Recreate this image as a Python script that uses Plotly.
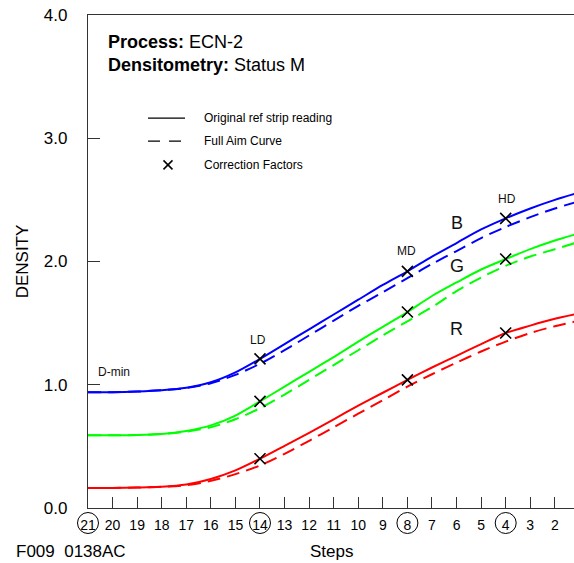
import plotly.graph_objects as go

# ---------------- data ----------------
steps = [21, 20, 19, 18, 17, 16, 15, 14, 13, 12, 11, 10, 9, 8, 7, 6, 5, 4, 3, 2, 1]

blue_ref = [0.94, 0.94, 0.945, 0.955, 0.975, 1.02, 1.10, 1.21, 1.33, 1.45, 1.57,
            1.69, 1.81, 1.92, 2.04, 2.15, 2.26, 2.35, 2.43, 2.50, 2.56]
blue_aim = [0.94, 0.94, 0.945, 0.955, 0.973, 1.012, 1.08, 1.17, 1.28, 1.40, 1.52,
            1.64, 1.75, 1.865, 1.98, 2.085, 2.19, 2.28, 2.36, 2.43, 2.49]

green_ref = [0.59, 0.59, 0.592, 0.60, 0.625, 0.67, 0.75, 0.865, 0.985, 1.105, 1.225,
             1.35, 1.47, 1.59, 1.72, 1.83, 1.935, 2.02, 2.10, 2.17, 2.23]
green_aim = [0.59, 0.59, 0.592, 0.60, 0.62, 0.655, 0.72, 0.81, 0.92, 1.04, 1.16,
             1.28, 1.40, 1.515, 1.63, 1.76, 1.87, 1.965, 2.04, 2.10, 2.16]

red_ref = [0.162, 0.163, 0.166, 0.172, 0.19, 0.235, 0.305, 0.40, 0.505, 0.61, 0.72,
           0.83, 0.935, 1.04, 1.14, 1.235, 1.33, 1.42, 1.48, 1.535, 1.58]
red_aim = [0.162, 0.163, 0.166, 0.172, 0.185, 0.22, 0.275, 0.345, 0.44, 0.545, 0.655,
           0.765, 0.875, 0.985, 1.085, 1.18, 1.27, 1.35, 1.42, 1.475, 1.52]

cf_steps = [14, 8, 4]
cf_blue = [1.21, 1.92, 2.35]
cf_green = [0.865, 1.59, 2.02]
cf_red = [0.40, 1.04, 1.42]

circled_steps = [21, 14, 8, 4]
tick_steps = list(range(21, 1, -1))
y_ticks = [0, 1, 2, 3, 4]

point_labels = ["D-min", "LD", "MD", "HD"]
point_label_x = [20.67, 14.08, 8.04, 3.96]
point_label_y = [1.10, 1.366, 2.086, 2.505]

channel_labels = ["B", "G", "R"]
channel_label_x = [6.0, 6.0, 6.0]
channel_label_y = [2.315, 1.96, 1.455]

X_RANGE = [21, 1.22]
FONT = "Arial, Liberation Sans, sans-serif"
DASH = "13px,7px"

fig = go.Figure()

series = [
    (blue_ref, blue_aim, "#0000ff"),
    (green_ref, green_aim, "#00ff00"),
    (red_ref, red_aim, "#ff0000"),
]
for ref, aim, col in series:
    fig.add_trace(go.Scatter(x=steps, y=aim, mode="lines",
                             line=dict(color=col, width=2, dash=DASH, shape="spline", smoothing=0.8),
                             showlegend=False, hoverinfo="skip"))
    fig.add_trace(go.Scatter(x=steps, y=ref, mode="lines",
                             line=dict(color=col, width=2, shape="spline", smoothing=0.8),
                             showlegend=False, hoverinfo="skip"))
for cf in [cf_blue, cf_green, cf_red]:
    fig.add_trace(go.Scatter(x=cf_steps, y=cf, mode="markers",
                             marker=dict(symbol="x-thin", size=11, color="black",
                                         line=dict(color="black", width=1.6)),
                             showlegend=False, hoverinfo="skip"))

annotations = []
# title block
annotations.append(dict(xref="paper", yref="paper", x=0.037, y=0.945, xanchor="left", yanchor="middle",
                        text="<b>Process:</b> ECN-2", showarrow=False, font=dict(size=18, color="black", family=FONT)))
annotations.append(dict(xref="paper", yref="paper", x=0.037, y=0.899, xanchor="left", yanchor="middle",
                        text="<b>Densitometry:</b> Status M", showarrow=False, font=dict(size=18, color="black", family=FONT)))
# legend text
leg_text = ["Original ref strip reading", "Full Aim Curve", "Correction Factors"]
leg_y = [0.791, 0.744, 0.696]
for t, yy in zip(leg_text, leg_y):
    annotations.append(dict(xref="paper", yref="paper", x=0.2346, y=yy, xanchor="left", yanchor="middle",
                            text=t, showarrow=False, font=dict(size=12, color="black", family=FONT)))
# point labels
for t, xx, yy in zip(point_labels, point_label_x, point_label_y):
    annotations.append(dict(x=xx, y=yy, xanchor="left" if t == "D-min" else "center", yanchor="middle",
                            text=t, showarrow=False, font=dict(size=12, color="#111", family=FONT)))
for t, xx, yy in zip(channel_labels, channel_label_x, channel_label_y):
    annotations.append(dict(x=xx, y=yy, xanchor="center", yanchor="middle",
                            text=t, showarrow=False, font=dict(size=18, color="#111", family=FONT)))
# axis titles / footer
annotations.append(dict(xref="paper", yref="paper", x=0.5, y=-0.088, xanchor="center", yanchor="middle",
                        text="Steps", showarrow=False, font=dict(size=17, color="black", family=FONT)))
annotations.append(dict(xref="paper", yref="paper", x=-0.152, y=-0.088, xanchor="left", yanchor="middle",
                        text="F009  0138AC", showarrow=False, font=dict(size=17, color="black", family=FONT)))

shapes = []
# legend samples
shapes.append(dict(type="line", xref="paper", yref="paper", x0=0.1235, x1=0.1996, y0=leg_y[0], y1=leg_y[0],
                   line=dict(color="black", width=1.3)))
shapes.append(dict(type="line", xref="paper", yref="paper", x0=0.1235, x1=0.1996, y0=leg_y[1], y1=leg_y[1],
                   line=dict(color="black", width=1.3, dash="12px,9px")))
for a, b in [(-5, 5), (5, -5)]:
    shapes.append(dict(type="line", xref="paper", yref="paper", xsizemode="pixel", ysizemode="pixel",
                       xanchor=0.1646, yanchor=leg_y[2], x0=-4.5, x1=4.5, y0=a * 0.9, y1=b * 0.9,
                       line=dict(color="black", width=1.5)))
# circles around key step labels (paper x derived from the axis range so they are not clipped)
for s in circled_steps:
    xp = (X_RANGE[0] - s) / (X_RANGE[0] - X_RANGE[1])
    shapes.append(dict(type="circle", xref="paper", yref="paper", xsizemode="pixel", ysizemode="pixel",
                       xanchor=xp, yanchor=0, x0=-10.5, x1=10.5, y0=-25.5, y1=-4.5,
                       line=dict(color="black", width=1)))

fig.update_layout(
    width=574, height=563,
    margin=dict(l=88, r=0, t=15, b=55),
    paper_bgcolor="white", plot_bgcolor="white",
    font=dict(family=FONT, color="black"),
    annotations=annotations, shapes=shapes,
    showlegend=False,
)
fig.update_xaxes(range=X_RANGE, tickvals=tick_steps, ticktext=[str(s) for s in tick_steps],
                 ticks="inside", ticklen=11, tickcolor="#333", tickwidth=1,
                 showline=True, linecolor="#333", linewidth=1.2, mirror=True,
                 showgrid=False, zeroline=False, tickfont=dict(size=14, family=FONT, color="black"),
                 ticklabelstandoff=4)
fig.update_yaxes(range=[0, 4], tickvals=y_ticks, tickformat=".1f",
                 ticks="inside", ticklen=12, tickcolor="#333", tickwidth=1,
                 showline=True, linecolor="#333", linewidth=1.2,
                 showgrid=False, zeroline=False, tickfont=dict(size=17, family=FONT, color="black"),
                 ticklabelstandoff=16,
                 title=dict(text="DENSITY", font=dict(size=17, family=FONT, color="black"), standoff=10))

fig.write_html("out.html", config={"displayModeBar": False},
               post_script="document.body.style.margin='0';document.body.style.overflow='hidden';")
